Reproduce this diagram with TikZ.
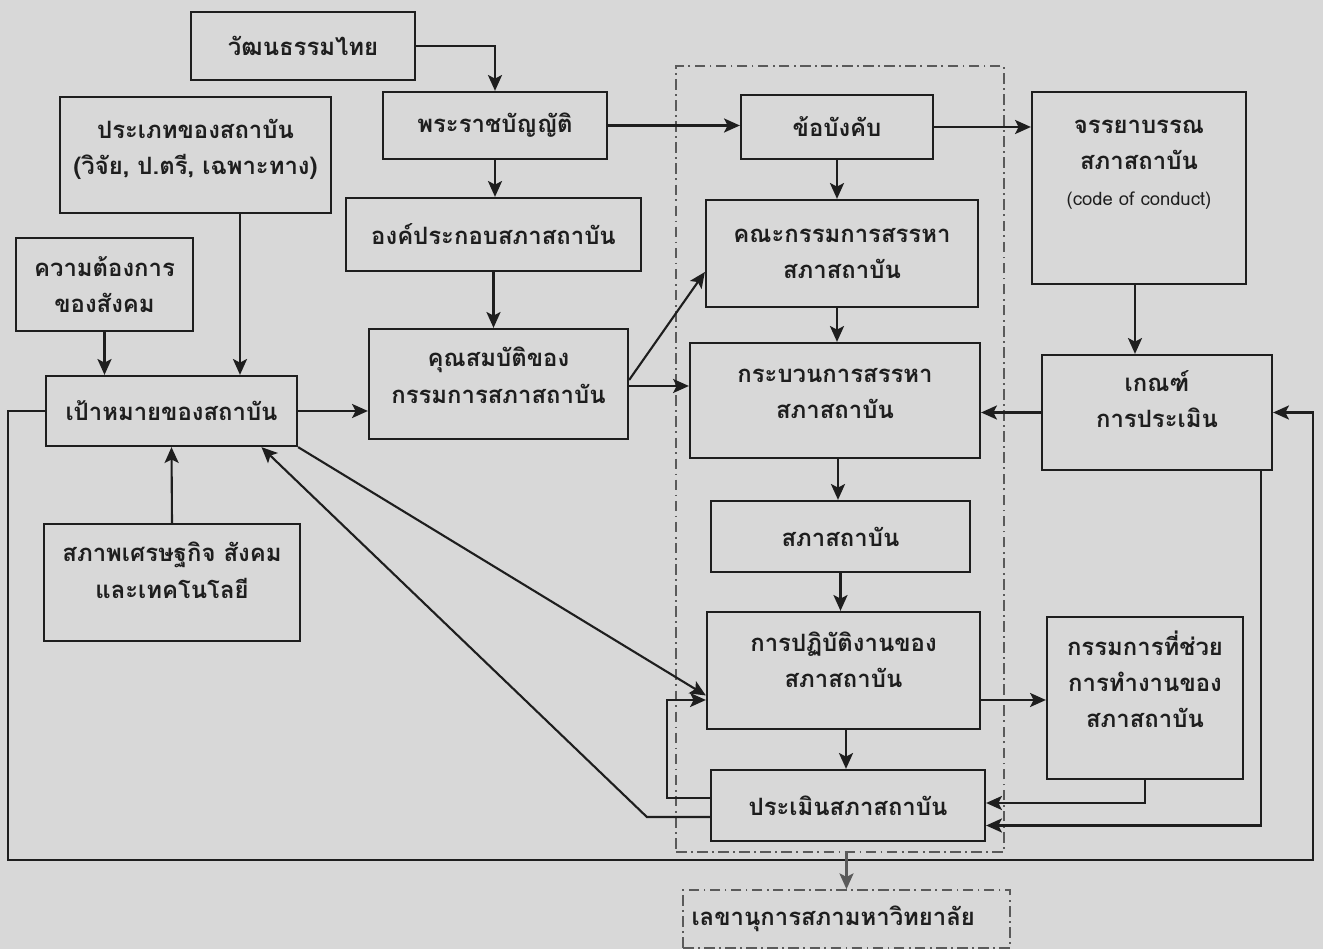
\documentclass[tikz,border=0pt]{standalone}
\usepackage{fontspec}
\setmainfont[Script=Thai]{Loma}
\usepackage{tikz}
\usetikzlibrary{arrows, arrows.meta, positioning}
\definecolor{paper}{RGB}{216,216,216}
\definecolor{ink}{RGB}{30,30,30}
\definecolor{dashgray}{RGB}{90,90,90}
\newcommand{\padbelow}[1]{\rule[-#1]{0pt}{#1}}
\tikzstyle{process} = [rectangle,
draw=ink, line width=1.3pt, text=ink,
align=center, inner sep=2pt,
font=\fontsize{13.6}{20.5}\selectfont\bfseries]
\tikzstyle{dashframe} = [rectangle, draw=dashgray, line width=0.9pt,
dash pattern=on 6pt off 2.5pt on 1pt off 2.5pt]
\tikzstyle{arrow} = [line width=1.2pt, draw=ink, ->,
>={Stealth[length=9pt,width=8pt,inset=2pt]}]

\begin{document}
\begin{tikzpicture}[x=0.02cm, y=-0.02cm]
    \path[use as bounding box, fill=paper] (0,0) rectangle (1323,949);

    % left side
    \node (wat) [process, minimum width=4.48cm, minimum height=1.36cm] at (303,46)
        {วัฒนธรรมไทย};
    \node (prakhet) [process, minimum width=5.42cm, minimum height=2.32cm] at (195.5,155)
        {ประเภทของสถาบัน \\ (วิจัย, ป.ตรี, เฉพาะทาง)\padbelow{9pt}};
    \node (khwam) [process, minimum width=3.54cm, minimum height=1.86cm] at (104.5,284.5)
        {ความต้องการ \\ ของสังคม};
    \node (pao) [process, minimum width=5.02cm, minimum height=1.4cm] at (171.5,411)
        {เป้าหมายของสถาบัน};
    \node (sapab) [process, minimum width=5.12cm, minimum height=2.34cm] at (172,582.5)
        {สภาพเศรษฐกิจ สังคม \\ และเทคโนโลยี\padbelow{14pt}};
    \node (phrb) [process, minimum width=4.48cm, minimum height=1.34cm] at (495,125.5)
        {พระราชบัญญัติ};
    \node (ongprakob) [process, minimum width=5.9cm, minimum height=1.46cm] at (493.5,234.5)
        {องค์ประกอบสภาสถาบัน};
    \node (khun) [process, minimum width=5.18cm, minimum height=2.2cm] at (498.5,384)
        {คุณสมบัติของ \\ กรรมการสภาสถาบัน\padbelow{10pt}};

    % council block
    \node (core) [dashframe, minimum width=6.56cm, minimum height=15.72cm] at (840,459) {};
    \node (khobang) [process, minimum width=3.84cm, minimum height=1.28cm] at (837,127)
        {ข้อบังคับ};
    \node (khana) [process, minimum width=5.44cm, minimum height=2.14cm] at (842,253.5)
        {คณะกรรมการสรรหา \\ สภาสถาบัน};
    \node (krabuan) [process, minimum width=5.8cm, minimum height=2.3cm] at (835,400.5)
        {กระบวนการสรรหา \\ สภาสถาบัน\padbelow{8pt}};
    \node (sapha) [process, minimum width=5.18cm, minimum height=1.42cm] at (840.5,536.5)
        {สภาสถาบัน};
    \node (patibat) [process, minimum width=5.46cm, minimum height=2.34cm] at (843.5,670.5)
        {การปฏิบัติงานของ \\ สภาสถาบัน\padbelow{12pt}};
    \node (pramern) [process, minimum width=5.48cm, minimum height=1.42cm] at (848,805.5)
        {ประเมินสภาสถาบัน};
    \node (lekha) [process, dashframe, minimum width=6.54cm, minimum height=1.16cm,
        text width=6.2cm, align=left] at (846.5,919)
        {เลขานุการสภามหาวิทยาลัย};

    % right side
    \node (jan) [process, minimum width=4.28cm, minimum height=3.84cm] at (1139,188)
        {จรรยาบรรณ \\ สภาสถาบัน \\
         {\fontsize{10.5}{14}\selectfont\mdseries (code of conduct)} \\[0.3cm] \mbox{}};
    \node (kane) [process, minimum width=4.6cm, minimum height=2.3cm] at (1157,412.5)
        {เกณฑ์ \\ การประเมิน\padbelow{15pt}};
    \node (krammakan) [process, minimum width=3.92cm, minimum height=3.24cm] at (1145,698)
        {กรรมการที่ช่วย \\ การทำงานของ \\ สภาสถาบัน\padbelow{21pt}};

    % connectors
    \draw [arrow] (wat.east) -| (phrb.north);
    \draw [arrow] (phrb.south) -- (phrb.south |- ongprakob.north);
    \draw [arrow] (ongprakob.south) -- (ongprakob.south |- khun.north);
    \draw [arrow] (phrb.east) -- (phrb.east -| khobang.west);
    \draw [arrow] (khobang.east) -- (khobang.east -| jan.west);
    \draw [arrow] (khobang.south) -- (khobang.south |- khana.north);
    \draw [arrow] ([xshift=-0.1cm]khana.south) -- ([xshift=-0.1cm]khana.south |- krabuan.north);
    \draw [arrow] ([xshift=0.06cm]krabuan.south) -- ([xshift=0.06cm]krabuan.south |- sapha.north);
    \draw [arrow] (sapha.south) -- (sapha.south |- patibat.north);
    \draw [arrow] ([xshift=0.05cm]patibat.south) -- ([xshift=0.05cm]patibat.south |- pramern.north);
    \draw [arrow] ([xshift=-0.08cm]jan.south) -- ([xshift=-0.08cm]jan.south |- kane.north);
    \draw [arrow] (kane.west) -- (kane.west -| krabuan.east);
    \draw [arrow] ([yshift=-0.59cm]patibat.east) -- ([yshift=-0.59cm]patibat.east -| krammakan.west);
    \draw [arrow] (krammakan.south) |- ([yshift=0.05cm]pramern.east);
    \draw [arrow] ([xshift=-0.24cm]kane.south east) |- ([yshift=-0.4cm]pramern.east);

    \draw [arrow] (khwam.south) -- (khwam.south |- pao.north);
    \draw [arrow] ([xshift=0.89cm]prakhet.south) -- ([xshift=0.89cm]prakhet.south |- pao.north);
    \draw [arrow] (sapab.north) -- (pao.south);
    \draw [arrow] (pao.east) -- (pao.east -| khun.west);
    \draw [arrow] ([yshift=0.08cm]khun.east) -- ([yshift=-0.37cm]khana.west);
    \draw [arrow] ([yshift=-0.04cm]khun.east) -- ([yshift=-0.04cm]khun.east -| krabuan.west);
    \draw [arrow] (pao.south east) -- ([yshift=-0.5cm]patibat.west);
    \draw [arrow] ([yshift=0.15cm]pramern.west) -- ++(-43,0) |- ([yshift=-0.59cm]patibat.west);
    \draw [arrow] ([yshift=-0.23cm]pramern.west) -- ++(-63,0) -- ([xshift=1.8cm]pao.south);

    % outer feedback loop
    \draw [arrow] (pao.west) -- (8,411) -- (8,860) -- (1313,860) |- (kane.east);

    \draw [arrow, draw=dashgray] (lekha.north |- core.south) -- (lekha.north);
\end{tikzpicture}
\end{document}
